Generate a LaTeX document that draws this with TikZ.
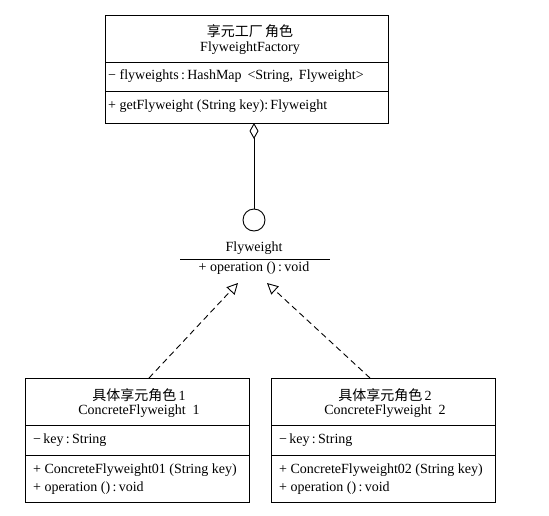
\documentclass[tikz,border=0pt]{standalone}
\usepackage{fontspec}
\setmainfont{Liberation Serif}
\newfontfamily\cjk{Noto Sans CJK SC}
\usetikzlibrary{arrows.meta}
\begin{document}
\begin{tikzpicture}[x=1pt,y=-1pt,
  txt/.style={font=\fontsize{14}{16}\selectfont, inner sep=0pt},
  cjkt/.style={font=\cjk\fontsize{14}{16}\selectfont, inner sep=0pt},
  ln/.style={line width=0.9pt},
  cls/.style={draw, line width=0.9pt}]
\useasboundingbox (0,0) rectangle (549,515);
% top class
\node[cls, minimum width=283pt, minimum height=108pt, anchor=north west, inner sep=0pt] (fac) at (105,15) {};
\draw[ln] (105,62) -- (388,62);
\draw[ln] (105,91) -- (388,91);
\node[cjkt] (facn1) at (250,31) {享元工厂\,角色};
\node[txt] (facn2) at (250,48) {FlyweightFactory};
\node[txt, anchor=west] (faca) at (108,76) {−\ flyweights\,:\,HashMap\ \,<String,\ \,Flyweight>};
\node[txt, anchor=west] (facm) at (108,106) {+ getFlyweight (String key):\,Flyweight};
% interface lollipop
\node[draw, circle, line width=0.9pt, minimum size=22pt, inner sep=0pt] (ifc) at (254,220) {};
\coordinate (dtop) at (254,123);
\draw[ln, {Diamond[open, width=9pt, length=16pt, line width=0.9pt]}-] (dtop) -- (ifc.north);
\node[txt] (fwn) at (254,248) {Flyweight};
\draw[ln] (180,259) -- (330,259);
\node[txt] (fwo) at (254,268) {+ operation ()\,:\,void};
\coordinate (tipl) at (238,283);
\coordinate (tipr) at (267,283);
% concrete classes
\node[cls, minimum width=224pt, minimum height=124pt, anchor=north west, inner sep=0pt] (c1) at (25,378) {};
\draw[ln] (25,425) -- (249,425);
\draw[ln] (25,455) -- (249,455);
\node[cjkt] (c1n1) at (139,395) {具体享元角色\,{\rmfamily 1}};
\node[txt] (c1n2) at (139,411) {ConcreteFlyweight\ \ 1};
\node[txt, anchor=west] (c1a) at (33,440) {−\,key\,:\,String};
\node[txt, anchor=west] (c1m1) at (33,470) {+ ConcreteFlyweight01 (String key)};
\node[txt, anchor=west] (c1m2) at (33,488) {+ operation ()\,:\,void};
\node[cls, minimum width=224pt, minimum height=124pt, anchor=north west, inner sep=0pt] (c2) at (271,378) {};
\draw[ln] (271,425) -- (495,425);
\draw[ln] (271,455) -- (495,455);
\node[cjkt] (c2n1) at (385,395) {具体享元角色\,{\rmfamily 2}};
\node[txt] (c2n2) at (385,411) {ConcreteFlyweight\ \ 2};
\node[txt, anchor=west] (c2a) at (279,440) {−\,key\,:\,String};
\node[txt, anchor=west] (c2m1) at (279,470) {+ ConcreteFlyweight02 (String key)};
\node[txt, anchor=west] (c2m2) at (279,488) {+ operation ()\,:\,void};
% realizations
\coordinate (s1) at (149,378);
\coordinate (s2) at (370,378);
\draw[ln, dash pattern=on 6pt off 4pt, -{Triangle[open, width=11pt, length=11pt, line width=0.9pt]}] (s1) -- (tipl);
\draw[ln, dash pattern=on 6pt off 4pt, -{Triangle[open, width=11pt, length=11pt, line width=0.9pt]}] (s2) -- (tipr);
\end{tikzpicture}
\end{document}
